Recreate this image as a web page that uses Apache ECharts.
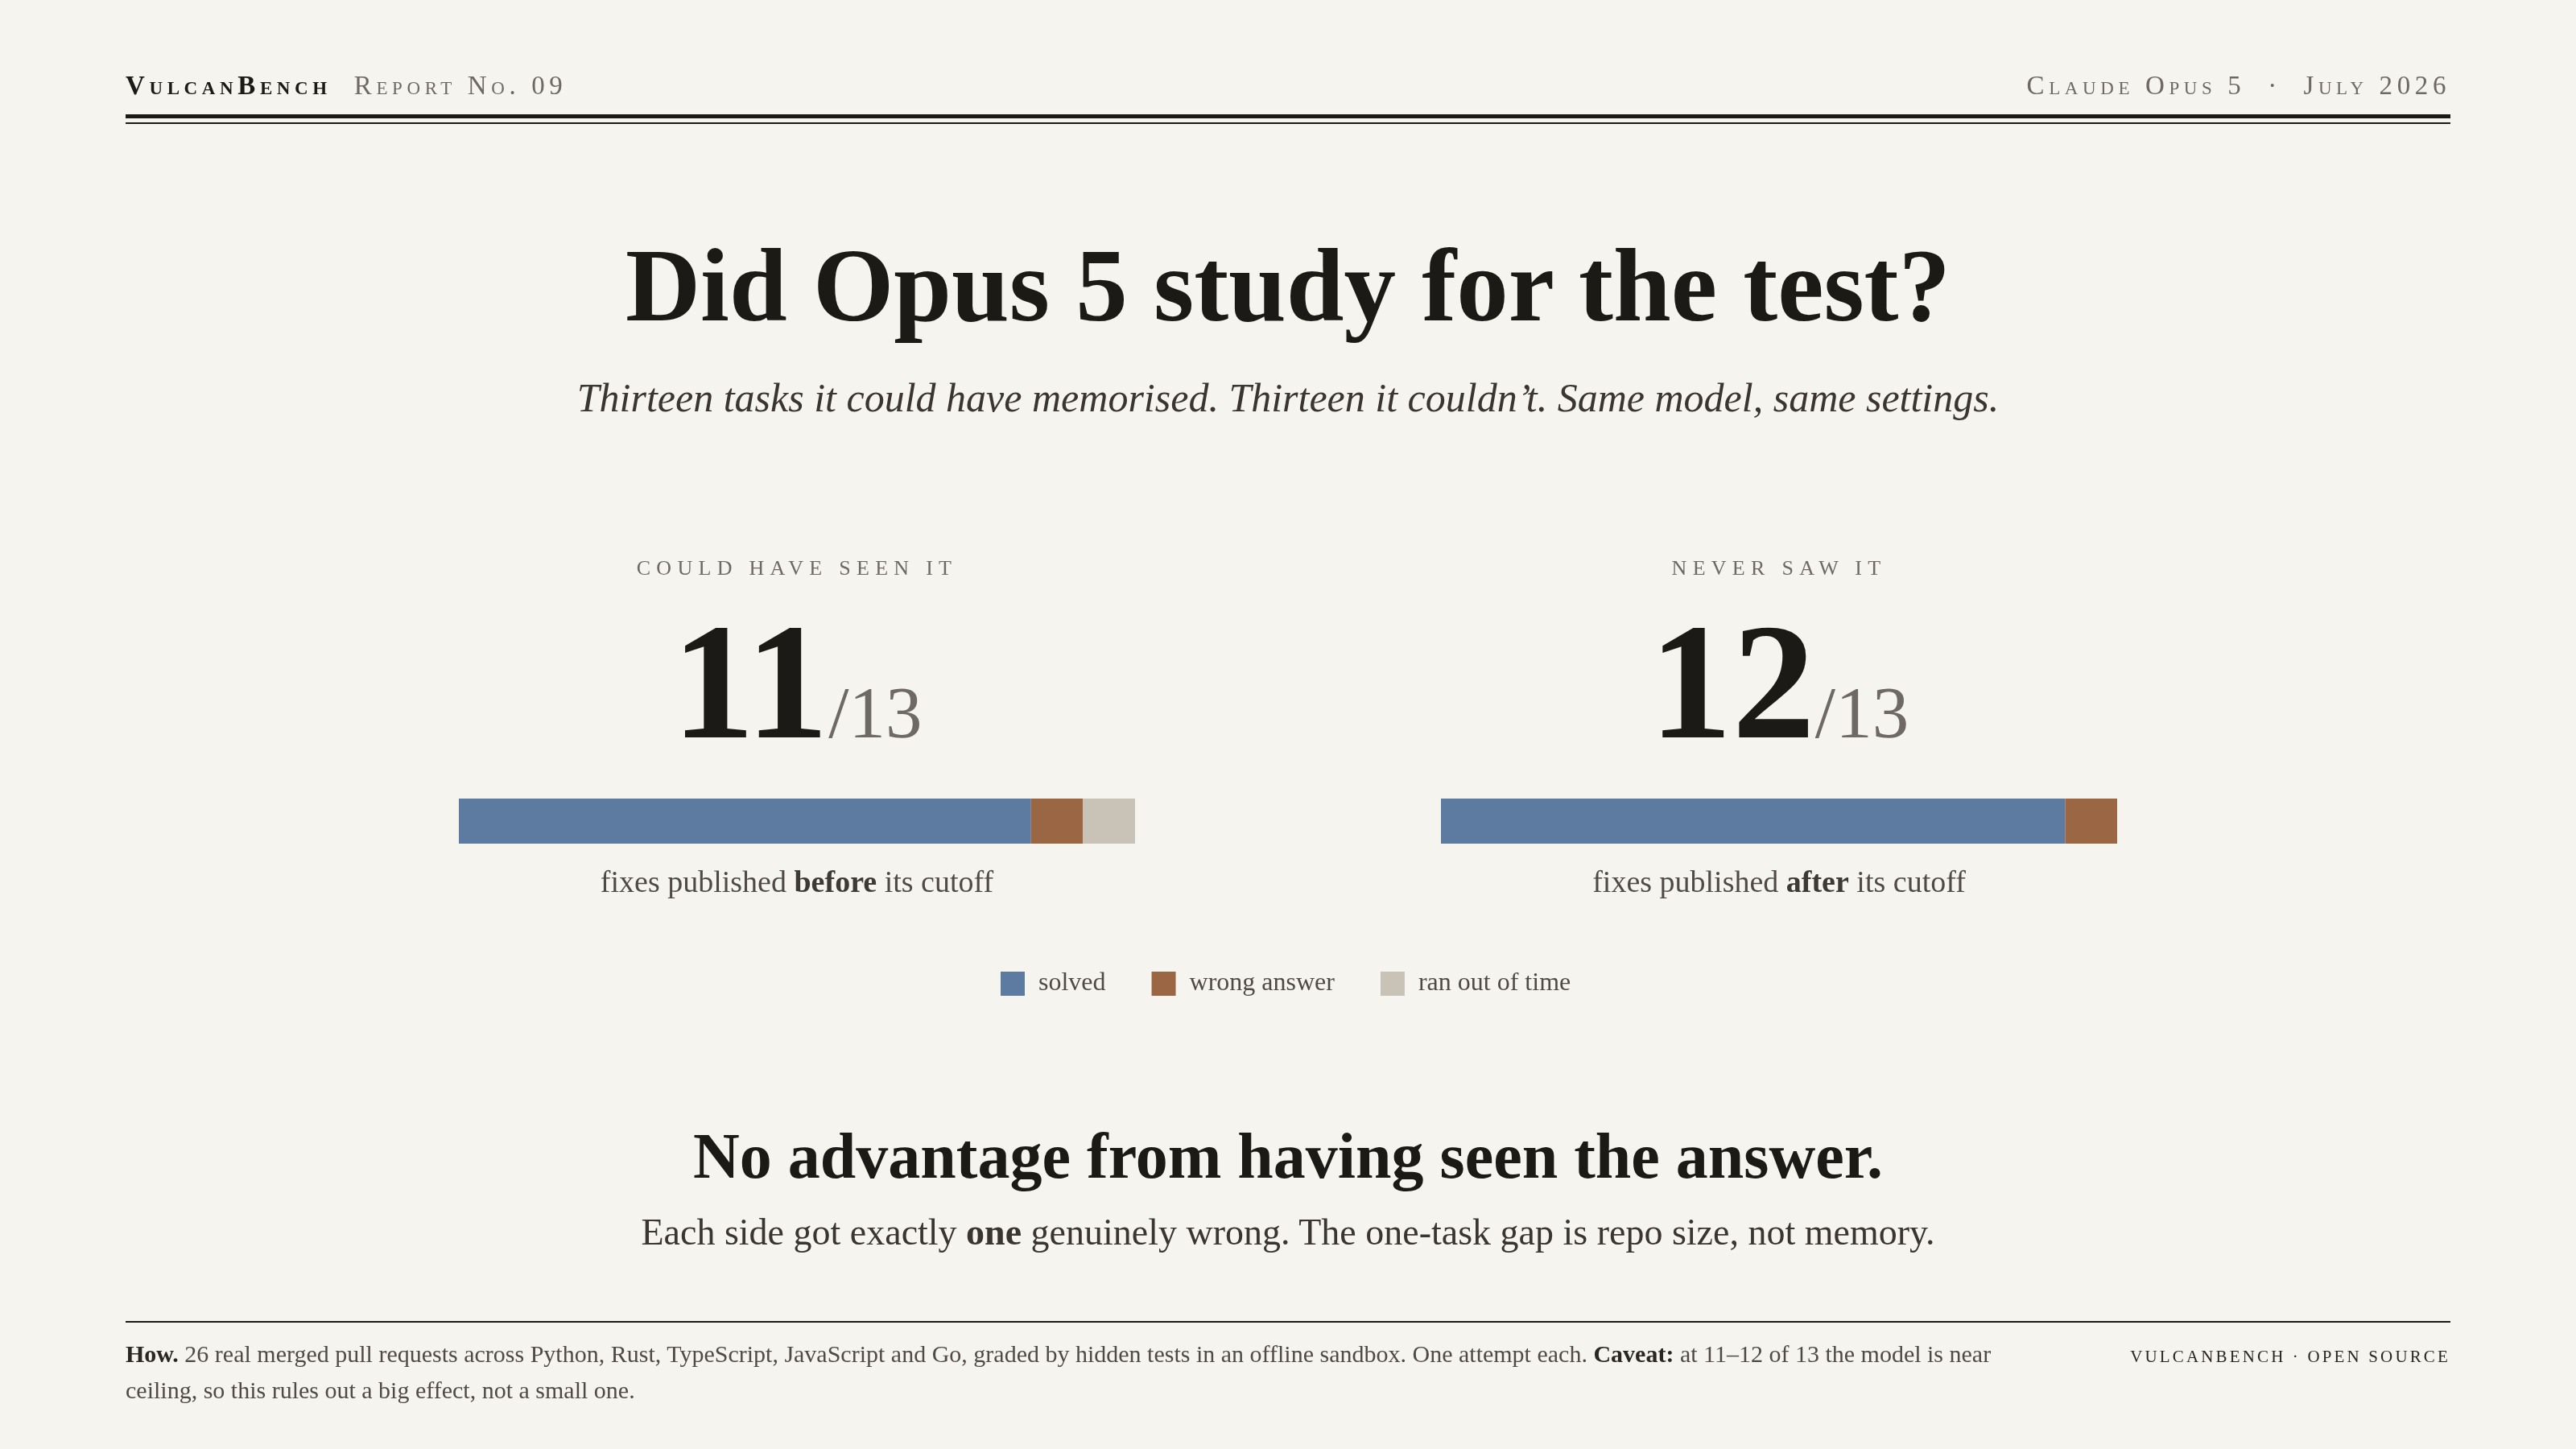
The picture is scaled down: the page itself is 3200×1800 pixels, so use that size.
<!DOCTYPE html>
<html>
<head>
<meta charset="utf-8">
<script src="https://cdn.jsdelivr.net/npm/echarts@6/dist/echarts.min.js"></script>
<style>
  html, body { margin: 0; padding: 0; background: #f6f4ef; }
  body { width: 3200px; height: 1800px; position: relative; overflow: hidden;
         font-family: 'Liberation Serif', 'Times New Roman', serif; color: #1c1a16; }
  #chart { position: absolute; left: 0; top: 0; width: 3200px; height: 1800px; z-index: 0; }
  .t { position: absolute; line-height: 1; white-space: nowrap; z-index: 1; }
  .sc { font-variant: small-caps; letter-spacing: 0.17em; font-size: 33px; }
  .rule { position: absolute; left: 156px; width: 2888px; background: #1c1a16; }
  .center { left: 156px; width: 2888px; text-align: center; }
  .panel-label { font-size: 26px; letter-spacing: 0.28em; color: #6e6a63; text-align: center; width: 840px; }
  .big { font-size: 206px; font-weight: bold; text-align: center; width: 840px; }
  .big span { font-size: 91px; font-weight: normal; color: #6e6a63; }
  .cap { font-size: 38px; color: #4f4a45; text-align: center; width: 840px; }
  .cap b { color: #3d3934; }
</style>
</head>
<body>
<div id="chart"></div>

<div class="t sc" style="left:156px; top:90px;"><b>VulcanBench</b><span style="color:#6e6a63; margin-left:28px;">Report No. 09</span></div>
<div class="t sc" style="right:156px; top:90px; color:#6e6a63;">Claude Opus 5 &nbsp;·&nbsp; July 2026</div>
<div class="rule" style="top:142px; height:5px;"></div>
<div class="rule" style="top:152px; height:2px;"></div>

<div class="t center" style="top:290px; font-size:129px; font-weight:bold;">Did Opus 5 study for the test?</div>
<div class="t center" style="top:469px; font-size:50px; font-style:italic; color:#3a3530;">Thirteen tasks it could have memorised. Thirteen it couldn’t. Same model, same settings.</div>

<div id="panels"></div>

<div class="t center" style="top:1396px; font-size:80px; font-weight:bold;">No advantage from having seen the answer.</div>
<div class="t center" style="top:1508px; font-size:46px; color:#3a3530;">Each side got exactly <b>one</b> genuinely wrong. The one-task gap is repo size, not memory.</div>

<div class="rule" style="top:1641px; height:2px;"></div>
<div style="position:absolute; left:156px; top:1659px; width:2370px; font-size:30px; line-height:45px; color:#4f4a45;"><b style="color:#2a2622;">How.</b> 26 real merged pull requests across Python, Rust, TypeScript, JavaScript and Go, graded by hidden tests in an offline sandbox. One attempt each. <b style="color:#2a2622;">Caveat:</b> at 11–12 of 13 the model is near ceiling, so this rules out a big effect, not a small one.</div>
<div class="t" style="right:156px; top:1675px; font-size:21px; letter-spacing:0.15em; color:#2a2622;">VULCANBENCH · OPEN SOURCE</div>

<script>
// data
const groups = ['before', 'after'];
const groupLabels = ['COULD HAVE SEEN IT', 'NEVER SAW IT'];
const totals = [13, 13];
const solved = [11, 12];
const wrong = [1, 1];
const timedOut = [1, 0];
const outcomes = ['solved', 'wrong answer', 'ran out of time'];
const colors = ['#5d7aa1', '#9b6644', '#c9c2b7'];

const values = [solved, wrong, timedOut];
const barLeft = [570, 1790];

// panel texts
const panels = document.getElementById('panels');
groups.forEach((g, i) => {
  const x = barLeft[i];
  panels.insertAdjacentHTML('beforeend',
    `<div class="t panel-label" style="left:${x}px; top:693px;">${groupLabels[i]}</div>` +
    `<div class="t big" style="left:${x}px; top:744px;">${solved[i]}<span>/${totals[i]}</span></div>` +
    `<div class="t cap" style="left:${x}px; top:1076px;">fixes published <b>${g}</b> its cutoff</div>`);
});

const chart = echarts.init(document.getElementById('chart'));

const series = [];
outcomes.forEach((name, k) => {
  groups.forEach((g, i) => {
    series.push({
      type: 'bar',
      name: name,
      xAxisIndex: i,
      yAxisIndex: i,
      stack: 'g' + i,
      data: [values[k][i]],
      barWidth: '100%',
      itemStyle: { color: colors[k] },
      silent: true
    });
  });
});

chart.setOption({
  animation: false,
  color: colors,
  grid: groups.map((g, i) => ({ left: barLeft[i], top: 992, width: 840, height: 56 })),
  xAxis: groups.map((g, i) => ({ gridIndex: i, type: 'value', min: 0, max: totals[i], show: false })),
  yAxis: groups.map((g, i) => ({ gridIndex: i, type: 'category', data: [g], show: false })),
  legend: {
    data: outcomes,
    left: 1243,
    top: 1206,
    padding: 0,
    icon: 'rect',
    itemWidth: 30,
    itemHeight: 30,
    itemGap: 57,
    selectedMode: false,
    textStyle: {
      fontFamily: 'Liberation Serif',
      fontSize: 32,
      color: '#4f4a45',
      padding: [0, 0, 0, 12]
    }
  },
  series: series
});
</script>
</body>
</html>
